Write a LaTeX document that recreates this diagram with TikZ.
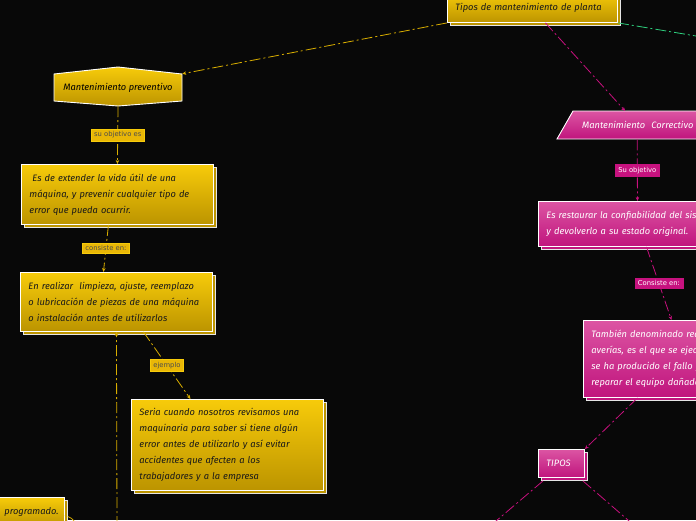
\documentclass[tikz,border=0pt]{standalone}
\usepackage{fontspec}
\setmainfont{Fira Sans}
\newfontfamily\labfont{DejaVu Sans}
\usetikzlibrary{arrows.meta, shadows, positioning, calc}
\definecolor{ytop}{HTML}{F7CB0A}
\definecolor{ybot}{HTML}{BC9400}
\definecolor{ylabc}{HTML}{E9B707}
\definecolor{yline}{HTML}{D9AE00}
\definecolor{ptop}{HTML}{DC55A3}
\definecolor{pbot}{HTML}{C0147D}
\definecolor{plabc}{HTML}{C7127F}
\definecolor{pline}{HTML}{C8107E}
\definecolor{gline}{HTML}{2ECF7E}
\definecolor{bgc}{HTML}{080808}

\begin{document}
\begin{tikzpicture}[x=1pt, y=-1pt,
  ybox/.style={anchor=north west, align=left, inner xsep=8pt, inner ysep=3pt, draw=white, line width=0.9pt,
    top color=ytop, bottom color=ybot, text=black!90,
    copy shadow={shadow xshift=3pt, shadow yshift=-3pt, fill=ybot, draw=white!90!black, line width=0.9pt},
    font=\fontsize{9.3}{16}\selectfont\itshape},
  pbox/.style={ybox, top color=ptop, bottom color=pbot, text=white,
    copy shadow={shadow xshift=3pt, shadow yshift=-3pt, fill=pbot, draw=white!90!black, line width=0.9pt}},
  ylab/.style={solid, fill=ylabc, draw=ytop, line width=0.4pt, text=black!70, inner xsep=3pt, inner ysep=2.6pt,
    font=\labfont\fontsize{6.8}{7}\selectfont},
  plab/.style={ylab, fill=plabc, draw=plabc, text=white},
  ycon/.style={draw=yline, line width=0.8pt, dash pattern=on 11pt off 3pt on 2pt off 3pt, -{Stealth[length=4pt, width=3.5pt]}},
  pcon/.style={ycon, draw=pline},
  gcon/.style={ycon, draw=gline}]
  \useasboundingbox (0,0) rectangle (696,520);
  \fill[bgc] (0,0) rectangle (696,520);

  % top
  \node[ybox, text width=154pt, minimum height=30pt] (root) at (447,-8) {Tipos de mantenimiento de planta};

  % preventivo side
  \shade[top color=ytop, bottom color=ybot, draw=white, line width=0.9pt]
    (54,74) -- (118,67) -- (182,74) -- (182,101) -- (118,106) -- (54,101) -- cycle;
  \node[minimum width=128pt, minimum height=27pt, inner sep=0pt, font=\fontsize{9.3}{10}\selectfont\itshape] (prev) at (118,87.5) {Mantenimiento preventivo};
  \node[ybox, text width=176pt, minimum height=60pt] (ext) at (21,164)
    {\hspace{3pt}Es de extender la vida útil de una\\máquina, y prevenir cualquier tipo de\\error que pueda ocurrir.};
  \node[ybox, text width=176pt, minimum height=59pt] (limp) at (20,272)
    {En realizar \ limpieza, ajuste, reemplazo\\o lubricación de piezas de una máquina\\o instalación antes de utilizarlos};
  \node[ybox, text width=176pt, minimum height=91pt] (ejem) at (131,399)
    {Seria cuando nosotros revisamos una\\maquinaria para saber si tiene algún\\error antes de utilizarlo y así evitar\\accidentes que afecten a los\\trabajadores y a la empresa};
  \node[ybox, text width=52pt, minimum height=30pt] (prog) at (-4,497) {programado.};
  \coordinate (down) at (117,527);
  \coordinate (curv) at (75,524);

  \draw[ycon] (root.south west) -- (prev.north east);
  \draw[ycon] ([yshift=-5pt]prev.south) -- node[ylab] {su objetivo es} (ext.north);
  \draw[ycon] ([xshift=-9pt]ext.south) -- node[ylab] {consiste en:} ([xshift=-13pt]limp.north);
  \draw[ycon] ([xshift=27pt]limp.south) -- node[ylab] {ejemplo} ([xshift=-37pt]ejem.north);
  \draw[ycon] (down) -- (limp.south);
  \draw[ycon, -] (curv) to[out=95, in=-20] ([yshift=-3pt]prog.east);

  % correctivo side
  \shade[top color=ptop, bottom color=pbot, draw=white, line width=0.9pt]
    (557,139) -- (573,111) -- (730,111) -- (730,139) -- cycle;
  \node[anchor=north west, align=left, inner xsep=9pt, text width=134pt, minimum height=28pt, text=white,
    font=\fontsize{9.3}{10}\selectfont\itshape] (corr) at (573,111) {Mantenimiento \ Correctivo};
  \node[pbox, text width=200pt, minimum height=45pt] (rest) at (538,201)
    {Es restaurar la confiabilidad del sistema\\y devolverlo a su estado original.};
  \node[pbox, text width=160pt, minimum height=77pt] (tamb) at (583,320)
    {También denominado reactivo\\averías, es el que se ejecuta\\se ha producido el fallo y\\reparar el equipo dañado.};
  \node[pbox, text width=30pt, minimum height=28pt] (tipos) at (538,449) {TIPOS};
  \coordinate (tl) at (489,527);
  \coordinate (tr) at (636,527);
  \coordinate (gr) at (702,37);

  \draw[pcon] ([xshift=13pt]root.south) -- ([xshift=-24pt]corr.north);
  \draw[pcon] ([xshift=-12pt]corr.south) -- node[plab] {Su objetivo} ([xshift=-9pt]rest.north);
  \draw[pcon] (rest.south) -- node[plab] {Consiste en:} (tamb.north);
  \draw[pcon] ([xshift=-34pt]tamb.south) -- (tipos.north east);
  \draw[pcon, -] ([xshift=5pt, yshift=-3pt]tipos.south west) -- (tl);
  \draw[pcon, -] ([xshift=-2pt, yshift=-3pt]tipos.south east) -- (tr);
  \draw[gcon, -] (root.south east) -- (gr);
\end{tikzpicture}
\end{document}
